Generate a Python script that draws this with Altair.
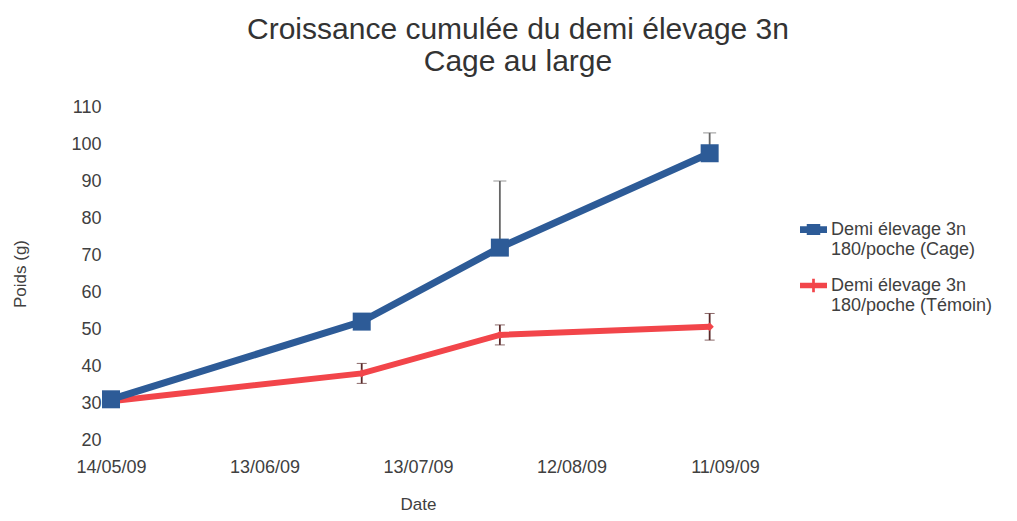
import altair as alt
import pandas as pd

# ---- data ----
dates = ["2009-05-14", "2009-07-02", "2009-07-29", "2009-09-08"]
series_names = ["Demi élevage 3n|180/poche (Cage)", "Demi élevage 3n|180/poche (Témoin)"]
cage_values = [31, 52, 72, 97.5]
cage_err_plus = [0, 0, 18, 5.5]
temoin_values = [30.5, 38, 48.4, 50.6]
temoin_err = [0, 2.7, 2.7, 3.6]
y_ticks = [20, 30, 40, 50, 60, 70, 80, 90, 100, 110]
x_tick_dates = [(2009, 5, 14), (2009, 6, 13), (2009, 7, 13), (2009, 8, 12), (2009, 9, 11)]
colors = ["#2D5B97", "#F2454A"]

rows = []
for d, v, e in zip(dates, cage_values, cage_err_plus):
    rows.append({"date": d, "series": series_names[0], "value": v, "lo": v, "hi": v + e, "err": e})
for d, v, e in zip(dates, temoin_values, temoin_err):
    rows.append({"date": d, "series": series_names[1], "value": v, "lo": v - e, "hi": v + e, "err": e})
df = pd.DataFrame(rows)

FONT = "Liberation Sans"
TXT = "#404040"

def dt(t):
    return alt.DateTime(year=t[0], month=t[1], date=t[2], utc=True)

x_scale = alt.Scale(type="utc", domain=[dt(x_tick_dates[0]), dt(x_tick_dates[-1])], nice=False)
y_scale = alt.Scale(domain=[y_ticks[0], y_ticks[-1]], nice=False, zero=False)
color_scale = alt.Scale(domain=series_names, range=colors)

x_axis = alt.Axis(values=[dt(t) for t in x_tick_dates], format="%d/%m/%y", labelFlush=False,
                  ticks=False, domain=False, grid=False, labelPadding=18, labelFont=FONT,
                  labelFontSize=18, labelColor=TXT, titleFont=FONT, titleFontSize=17,
                  titleFontWeight="normal", titleColor=TXT, titlePadding=20, labelOverlap=False)
y_axis = alt.Axis(values=y_ticks, ticks=False, domain=False, grid=False, labelPadding=10,
                  labelFont=FONT, labelFontSize=18, labelColor=TXT, titleFont=FONT,
                  titleFontSize=17, titleFontWeight="normal", titleColor=TXT, titlePadding=41)

X = alt.X("date:T", scale=x_scale, axis=x_axis, title="Date")
def Y(field):
    return alt.Y(f"{field}:Q", scale=y_scale, axis=y_axis, title="Poids (g)")

base = alt.Chart(df)
cage = base.transform_filter(alt.datum.series == series_names[0])
tem = base.transform_filter(alt.datum.series == series_names[1])

tem_line = tem.mark_line(strokeWidth=6, color=colors[1]).encode(x=X, y=Y("value"))
tem_err = tem.transform_filter(alt.datum.err > 0).mark_errorbar(
    ticks={"size": 10, "color": "#5a2a2a"}, rule={"strokeWidth": 1.8}, color="#5a2a2a"
).encode(x=X, y=Y("lo"), y2="hi:Q")
tem_pts = tem.mark_point(shape="diamond", filled=True, size=70, opacity=1, color=colors[1]).encode(
    x=X, y=Y("value"))

cage_err = cage.transform_filter(alt.datum.err > 0).mark_errorbar(
    ticks={"size": 13, "color": "#666666"}, rule={"strokeWidth": 1.8}, color="#666666"
).encode(x=X, y=Y("lo"), y2="hi:Q")
cage_line = cage.mark_line(strokeWidth=7, color=colors[0]).encode(x=X, y=Y("value"))
cage_pts = cage.mark_point(shape="square", filled=True, size=324, opacity=1, color=colors[0]).encode(
    x=X, y=Y("value"))

leg_paths = [
    "M-1,-0.25H1V0.25H-1Z M-0.5,-0.4H0.5V0.4H-0.5Z",
    "M-1,-0.2H1V0.2H-1Z M-0.1,-0.5H0.1V0.5H-0.1Z",
]
leg = alt.Legend(title=None, orient="none", legendX=689, legendY=109, padding=0,
                 labelExpr="split(datum.label, '|')", labelFont=FONT, labelFontSize=18,
                 labelColor=TXT, labelLimit=400, labelOffset=4, symbolSize=729,
                 symbolStrokeWidth=0, rowPadding=13)
legend_layer = base.transform_filter("datum.value < -1000").mark_point(filled=True, opacity=1).encode(
    x=X, y=Y("value"),
    color=alt.Color("series:N", scale=color_scale, legend=leg),
    shape=alt.Shape("series:N", scale=alt.Scale(domain=series_names, range=leg_paths), legend=leg),
)

chart = alt.layer(tem_line, tem_err, tem_pts, cage_err, cage_line, cage_pts, legend_layer).properties(
    width=614, height=333,
    title=alt.Title(text=["Croissance cumulée du demi élevage 3n", "Cage au large"], font=FONT,
                    fontSize=30, fontWeight="normal", color="#333333", anchor="middle",
                    frame="group", dx=100, offset=21, lineHeight=32),
    autosize=alt.AutoSizeParams(type="none"),
    padding={"left": 103, "top": 99, "right": 270, "bottom": 76},
).configure_view(stroke=None)

chart.save("out.html", embed_options={"renderer": "svg", "actions": False})
